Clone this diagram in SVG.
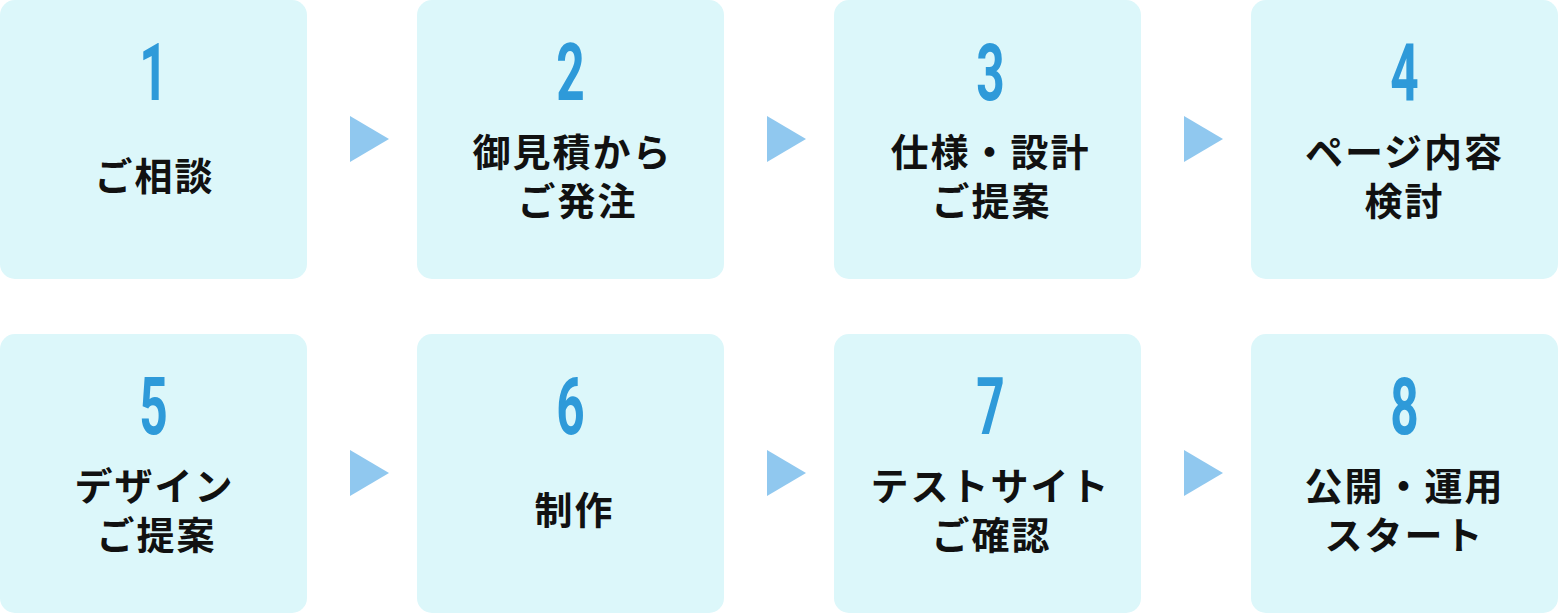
<svg xmlns="http://www.w3.org/2000/svg" width="1560" height="614" viewBox="0 0 1560 614">
<style>
.box{fill:#dcf7fa}
.num{font-family:Roboto,"DejaVu Sans Condensed",sans-serif;font-weight:700;font-size:80px;fill:#2e9ad9;text-anchor:middle}
.lbl{font-family:"Noto Sans CJK JP","Noto Sans",sans-serif;font-weight:700;font-size:38px;fill:#111111;text-anchor:middle;letter-spacing:2px}
.arr{fill:#90c8ef}
</style>
<rect width="1560" height="614" fill="#ffffff"/>
<g id="connectors">
<polygon class="arr" points="350,116 389,139 350,162"/>
<polygon class="arr" points="767,116 806,139 767,162"/>
<polygon class="arr" points="1184,116 1223,139 1184,162"/>
<polygon class="arr" points="350,450 389,473 350,496"/>
<polygon class="arr" points="767,450 806,473 767,496"/>
<polygon class="arr" points="1184,450 1223,473 1184,496"/>
</g>
<g id="node1">
<rect class="box" x="0" y="0" width="307" height="279" rx="15"/>
<text class="num" transform="translate(153.5,100) scale(0.62,1)">1</text>
<text class="lbl" x="154.5" y="190">ご相談</text>
</g>
<g id="node2">
<rect class="box" x="417" y="0" width="307" height="279" rx="15"/>
<text class="num" transform="translate(570.5,100) scale(0.62,1)">2</text>
<text class="lbl" x="572.5" y="166">御見積から</text>
<text class="lbl" x="577.5" y="215">ご発注</text>
</g>
<g id="node3">
<rect class="box" x="834" y="0" width="307" height="279" rx="15"/>
<text class="num" transform="translate(990.5,100) scale(0.62,1)">3</text>
<text class="lbl" x="990.5" y="166">仕様・設計</text>
<text class="lbl" x="991.5" y="215">ご提案</text>
</g>
<g id="node4">
<rect class="box" x="1251" y="0" width="307" height="279" rx="15"/>
<text class="num" transform="translate(1404.5,100) scale(0.62,1)">4</text>
<text class="lbl" x="1404.5" y="166">ページ内容</text>
<text class="lbl" x="1404.5" y="215">検討</text>
</g>
<g id="node5">
<rect class="box" x="0" y="334" width="307" height="279" rx="15"/>
<text class="num" transform="translate(153.5,434) scale(0.62,1)">5</text>
<text class="lbl" x="154.5" y="500">デザイン</text>
<text class="lbl" x="156.5" y="549">ご提案</text>
</g>
<g id="node6">
<rect class="box" x="417" y="334" width="307" height="279" rx="15"/>
<text class="num" transform="translate(570.5,434) scale(0.62,1)">6</text>
<text class="lbl" x="574.5" y="524">制作</text>
</g>
<g id="node7">
<rect class="box" x="834" y="334" width="307" height="279" rx="15"/>
<text class="num" transform="translate(990.5,434) scale(0.62,1)">7</text>
<text class="lbl" x="990.5" y="500">テストサイト</text>
<text class="lbl" x="991.5" y="549">ご確認</text>
</g>
<g id="node8">
<rect class="box" x="1251" y="334" width="307" height="279" rx="15"/>
<text class="num" transform="translate(1404.5,434) scale(0.62,1)">8</text>
<text class="lbl" x="1404.5" y="500">公開・運用</text>
<text class="lbl" x="1404.5" y="549">スタート</text>
</g>
</svg>
